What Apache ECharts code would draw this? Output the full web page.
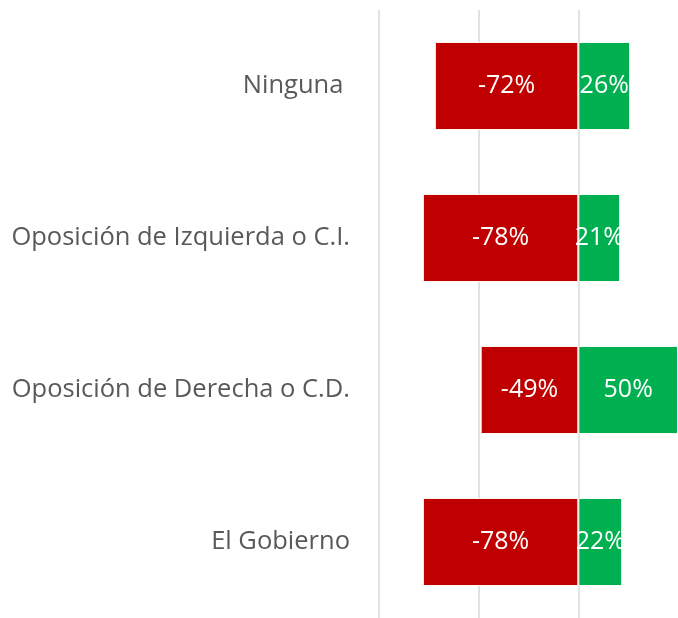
<!DOCTYPE html>
<html>
<head>
<meta charset="utf-8">
<script src="https://cdn.jsdelivr.net/npm/echarts@6/dist/echarts.min.js"></script>
<style>
  html, body { margin: 0; padding: 0; background: #fff; }
  #chart { width: 678px; height: 618px; }
</style>
</head>
<body>
<div id="chart"></div>
<script>
// categories, top to bottom
const categories = ["Ninguna ", "Oposición de Izquierda o C.I.", "Oposición de Derecha o C.D.", "El Gobierno"];
const negativeValues = [-72, -78, -49, -78];
const positiveValues = [26, 21, 50, 22];
const xTicks = [-100, -50, 0, 50];

const chart = echarts.init(document.getElementById("chart"));

const labelStyle = {
  show: true,
  position: "inside",
  color: "#fff",
  fontFamily: "Open Sans",
  fontSize: 25,
  formatter: (p) => `${p.value}%`,
};

chart.setOption({
  backgroundColor: "#fff",
  animation: false,
  grid: { left: 379, right: 0, top: 10, bottom: -2 },
  xAxis: {
    type: "value",
    min: xTicks[0],
    max: xTicks[xTicks.length - 1],
    interval: 50,
    axisLabel: { show: false },
    axisLine: { show: false },
    axisTick: { show: false },
    // last line (at 50%) is not drawn in the original
    splitLine: { lineStyle: { color: ["#d9d9d9", "#d9d9d9", "#d9d9d9", "rgba(0,0,0,0)"], width: 1.5 } },
  },
  yAxis: {
    type: "category",
    inverse: true,
    data: categories,
    axisLine: { show: false },
    axisTick: { show: false },
    axisLabel: {
      margin: 29,
      color: "#595959",
      fontFamily: "Open Sans",
      fontSize: 25.5,
    },
  },
  series: [
    {
      name: "neg",
      type: "bar",
      data: negativeValues,
      barWidth: "58%",
      barGap: "-100%",
      itemStyle: { color: "#c00000", borderColor: "#fff", borderWidth: 1 },
      label: labelStyle,
    },
    {
      name: "pos",
      type: "bar",
      data: positiveValues,
      barWidth: "58%",
      itemStyle: { color: "#00b050", borderColor: "#fff", borderWidth: 1 },
      label: labelStyle,
    },
  ],
});
</script>
</body>
</html>
